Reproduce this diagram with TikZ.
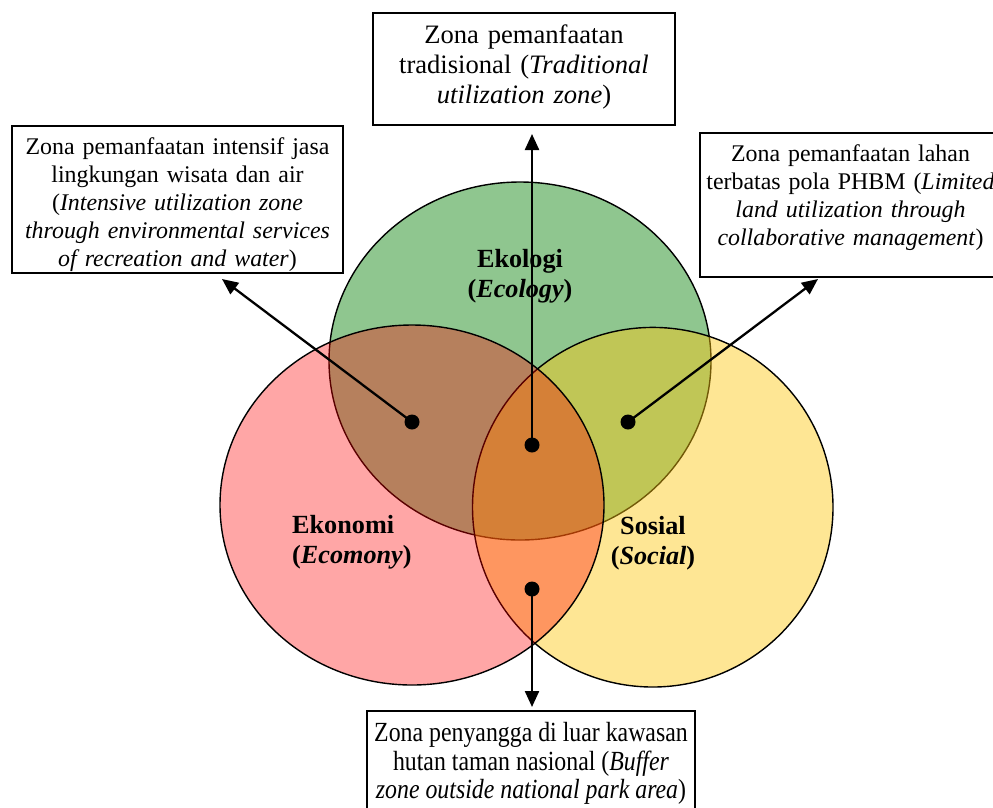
\documentclass[tikz,border=0pt]{standalone}
\usepackage{fontspec}
\usepackage{graphicx}
\setmainfont{Liberation Serif}
\usetikzlibrary{arrows.meta}
\definecolor{ecogreen}{RGB}{143,198,143}
\definecolor{socyel}{RGB}{253,199,17}
\definecolor{ecored}{RGB}{255,0,0}
\begin{document}
\begin{tikzpicture}[x=1pt,y=-1pt,
  zbox/.style={draw, line width=2pt, rectangle, inner sep=0pt, align=center, fill=white},
  arr/.style={line width=2.3pt, -{Triangle[length=16pt,width=14pt]}},
  dotnode/.style={circle, fill=black, inner sep=0pt, minimum size=15pt},
  venn/.style={line width=1.4pt, draw=black},
  lab/.style={font=\fontsize{26.2}{30.5}\selectfont\bfseries, inner sep=0pt}
]
\useasboundingbox (0,0) rectangle (993,807);
\clip (0,0) rectangle (993,807);

% Venn ellipses
\path[venn, fill=ecogreen] (520,361) ellipse [x radius=191, y radius=179];
\path[venn, fill=socyel, fill opacity=0.45] (652.75,507.2) ellipse [x radius=180.25, y radius=179.8];
\path[venn, fill=ecored, fill opacity=0.35] (412,505) ellipse [x radius=192, y radius=180];

% labels
\node[lab, text width=150pt, align=center, anchor=base] (lEco) at (520,267) {Ekologi\\ (\textit{Ecology})};
\node[lab, text width=140pt, align=left, anchor=base west] (lEko) at (292,533) {Ekonomi\\ (\textit{Ecomony})};
\node[lab, text width=120pt, align=center, anchor=base] (lSos) at (653,534) {Sosial\\ (\textit{Social})};

% boxes
\node[zbox, minimum width=331pt, minimum height=147pt, text width=325pt, font=\fontsize{23.9}{28}\selectfont] (boxL) at (177.5,199.5)
  {Zona pemanfaatan intensif jasa\\ lingkungan wisata dan air\\ (\textit{Intensive utilization zone}\\ \textit{through environmental services}\\ \textit{of recreation and water})\par\kern-10pt};
\node[zbox, minimum width=302pt, minimum height=112pt, text width=294pt, font=\fontsize{26.6}{30}\selectfont] (boxT) at (524,69)
  {Zona pemanfaatan\\ tradisional (\textit{Traditional}\\ \textit{utilization zone})\par\kern4.7pt};
\node[zbox, minimum width=301pt, minimum height=144pt, text width=293pt, font=\fontsize{23.9}{27.8}\selectfont] (boxR) at (850.5,205)
  {Zona pemanfaatan lahan\\ terbatas pola PHBM (\textit{Limited}\\ \textit{land utilization through}\\ \textit{collaborative management})\par\kern14.5pt};
\node[zbox, minimum width=328pt, minimum height=105pt] (boxB) at (531,763.5)
  {\scalebox{0.86}[1]{\parbox[t]{374pt}{\centering\fontsize{27.7}{28.3}\selectfont Zona penyangga di luar kawasan\\ hutan taman nasional (\textit{Buffer}\\ \textit{zone outside national park area})}}};

% dots
\node[dotnode] (dL) at (412,422) {};
\node[dotnode] (dC) at (532,445) {};
\node[dotnode] (dR) at (628,422) {};
\node[dotnode] (dB) at (532,589) {};

% arrows
\draw[arr] (dL.center) -- ([xshift=44.5pt,yshift=-5pt]boxL.south);
\draw[arr] (dR.center) -- ([xshift=-32.5pt,yshift=-1pt]boxR.south);
\draw[arr, shorten >=8pt] (dC.center) -- (dC |- boxT.south);
\draw[arr, shorten >=3pt] (dB.center) -- (dB |- boxB.north);
\end{tikzpicture}
\end{document}
